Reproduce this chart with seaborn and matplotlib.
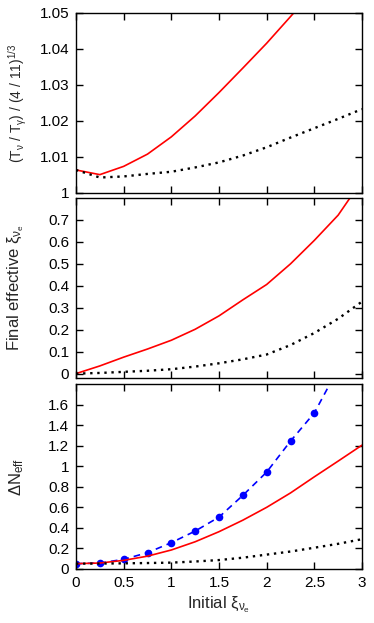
import matplotlib
matplotlib.use("Agg")
import matplotlib.pyplot as plt
import numpy as np
import pandas as pd
import seaborn as sns

# initial xi_nu_e grid
xi_init = [0.0, 0.25, 0.5, 0.75, 1.0, 1.25, 1.5, 1.75, 2.0, 2.25, 2.5, 2.75, 3.0]

# panel 1: (T_nu / T_gamma) / (4/11)^(1/3)
temp_red = [1.0064, 1.0051, 1.0074, 1.0108, 1.0156, 1.0214, 1.0279, 1.0347,
            1.0416, 1.0490, 1.0565, 1.0640, 1.0715]
temp_black = [1.0064, 1.0043, 1.0046, 1.0053, 1.0059, 1.0071, 1.0085, 1.0104,
              1.0127, 1.0154, 1.0180, 1.0206, 1.0233]

# panel 2: final effective xi_nu_e
xi_red = [0.0, 0.035, 0.075, 0.112, 0.152, 0.202, 0.263, 0.336, 0.406,
          0.500, 0.607, 0.722, 0.88]
xi_black = [0.0, 0.003, 0.008, 0.013, 0.020, 0.032, 0.047, 0.065, 0.087,
            0.130, 0.185, 0.250, 0.328]

# panel 3: Delta N_eff
dn_blue = [0.052, 0.058, 0.094, 0.159, 0.256, 0.369, 0.505, 0.716, 0.943,
           1.244, 1.519, 1.95, 2.45]
dn_red = [0.052, 0.058, 0.084, 0.125, 0.185, 0.265, 0.363, 0.475, 0.600,
          0.740, 0.897, 1.050, 1.205]
dn_black = [0.052, 0.053, 0.055, 0.058, 0.062, 0.073, 0.087, 0.110, 0.140,
            0.170, 0.207, 0.245, 0.290]

sns.set_theme(style="ticks")
plt.rcParams['font.family'] = ['Liberation Sans', 'DejaVu Sans']
plt.rcParams['mathtext.default'] = 'regular'
plt.rcParams['axes.linewidth'] = 1.0

RED = '#ff0000'
BLUE = '#0000ff'

fig = plt.figure(figsize=(3.74, 6.23), dpi=100)
left, width = 76 / 374, 286 / 374
ax1 = fig.add_axes([left, 1 - 193 / 623, width, 180 / 623])
ax2 = fig.add_axes([left, 1 - 378 / 623, width, 180 / 623])
ax3 = fig.add_axes([left, 1 - 569 / 623, width, 185 / 623])

df1 = pd.DataFrame({'x': xi_init, 'red': temp_red, 'black': temp_black})
df2 = pd.DataFrame({'x': xi_init, 'red': xi_red, 'black': xi_black})
df3 = pd.DataFrame({'x': xi_init, 'blue': dn_blue, 'red': dn_red, 'black': dn_black})

dot = (0, (1, 2))

sns.lineplot(data=df1, x='x', y='red', ax=ax1, color=RED, lw=1.2)
sns.lineplot(data=df1, x='x', y='black', ax=ax1, color='black', lw=1.7, linestyle=dot)
ax1.set_ylim(1.0, 1.05)
ax1.set_yticks([1.0, 1.01, 1.02, 1.03, 1.04, 1.05])
ax1.set_yticklabels(['1', '1.01', '1.02', '1.03', '1.04', '1.05'])
ax1.set_ylabel('(T$_ν$ / T$_γ$) / (4 / 11)$^{1/3}$', fontsize=10)

sns.lineplot(data=df2, x='x', y='red', ax=ax2, color=RED, lw=1.2)
sns.lineplot(data=df2, x='x', y='black', ax=ax2, color='black', lw=1.7, linestyle=dot)
ax2.set_ylim(-0.02, 0.8)
ax2.set_yticks([0, 0.1, 0.2, 0.3, 0.4, 0.5, 0.6, 0.7])
ax2.set_yticklabels(['0', '0.1', '0.2', '0.3', '0.4', '0.5', '0.6', '0.7'])
ax2.set_ylabel('Final effective ξ$_{ν_e}$', fontsize=12)

sns.lineplot(data=df3, x='x', y='blue', ax=ax3, color=BLUE, lw=1.2,
             linestyle=(0, (4, 3)), marker='o', markersize=5.5,
             markeredgewidth=0)
sns.lineplot(data=df3, x='x', y='red', ax=ax3, color=RED, lw=1.2)
sns.lineplot(data=df3, x='x', y='black', ax=ax3, color='black', lw=1.7, linestyle=dot)
ax3.set_ylim(0, 1.8)
ax3.set_yticks([0, 0.2, 0.4, 0.6, 0.8, 1.0, 1.2, 1.4, 1.6])
ax3.set_yticklabels(['0', '0.2', '0.4', '0.6', '0.8', '1', '1.2', '1.4', '1.6'])
ax3.set_ylabel('ΔN$_{eff}$', fontsize=12)
ax3.set_xlabel('Initial ξ$_{ν_e}$', fontsize=12)

xt = [0, 0.5, 1, 1.5, 2, 2.5, 3]
for ax in (ax1, ax2, ax3):
    ax.set_xlim(0, 3)
    ax.set_xticks(xt)
    ax.tick_params(direction='in', length=5, width=1.0, top=True, right=True,
                   labelsize=11, colors='black', pad=5)
    for s in ax.spines.values():
        s.set_visible(True)
        s.set_color('black')
    ax.yaxis.set_label_coords(-0.175, 0.5)
ax1.yaxis.set_label_coords(-0.165, 0.5)
ax1.set_xlabel('')
ax2.set_xlabel('')
ax1.tick_params(labelbottom=False)
ax2.tick_params(labelbottom=False)
ax3.set_xticklabels(['0', '0.5', '1', '1.5', '2', '2.5', '3'])
ax3.xaxis.labelpad = 3

fig.savefig('out.png', dpi=100)
